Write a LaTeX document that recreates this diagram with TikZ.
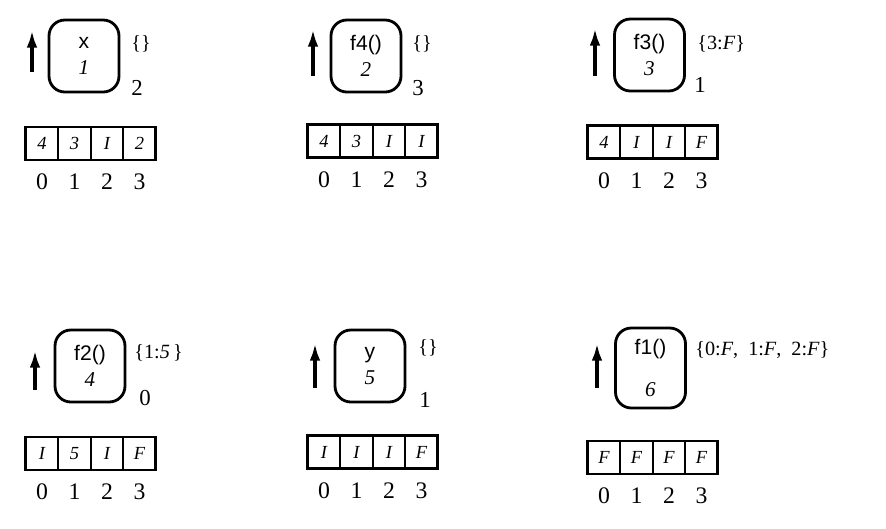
\documentclass[tikz,border=0pt]{standalone}
\usepackage{fontspec}
\setmainfont{Liberation Serif}
\setsansfont{Liberation Sans}
\usetikzlibrary{positioning,arrows.meta}

\begin{document}
\begin{tikzpicture}[x=0.02cm, y=-0.02cm,
  frame/.style={draw, line width=1.6pt, rounded corners=9pt, minimum width=1.4cm,
                minimum height=1.44cm, align=center, inner sep=0pt,
                font=\fontsize{12}{14}\selectfont},
  cell/.style={draw, line width=0.9pt, outer sep=0pt, minimum width=0.65cm,
               minimum height=0.66cm, inner sep=0pt,
               font=\fontsize{10.5}{12}\selectfont\itshape},
  arrframe/.style={line width=1.5pt},
  idx/.style={font=\fontsize{13.5}{15}\selectfont, inner sep=0pt},
  setlbl/.style={font=\fontsize{11.5}{13}\selectfont, anchor=west, inner sep=0pt},
  cnt/.style={font=\fontsize{13}{15}\selectfont, inner sep=0pt},
  upar/.style={-{Latex[length=10pt,width=6pt]}, line width=2pt}
]
  \useasboundingbox (0,0) rectangle (886,528);

  % ---- panel 1: x
  \coordinate (p1a0) at (32,72);
  \coordinate (p1a1) at (32,30);
  \draw[upar] (p1a0) -- (p1a1);
  \node[frame] (p1box) at (84,56) {\sffamily x\\[1pt]\itshape 1};
  \node[setlbl] (p1set) at (131,44) {\{\}};
  \node[cnt]    (p1cnt) at (137,88) {2};
  \node[cell] (p1c0) at (42,143.5) {4};
  \node[cell, right=0pt of p1c0] (p1c1) {3};
  \node[cell, right=0pt of p1c1] (p1c2) {I};
  \node[cell, right=0pt of p1c2] (p1c3) {2};
  \draw[arrframe] (p1c0.north west) rectangle (p1c3.south east);
  \node[idx, below=0.27cm of p1c0] (p1i0) {0};
  \node[idx, below=0.27cm of p1c1] (p1i1) {1};
  \node[idx, below=0.27cm of p1c2] (p1i2) {2};
  \node[idx, below=0.27cm of p1c3] (p1i3) {3};

  % ---- panel 2: f4()
  \coordinate (p2a0) at (313,76);
  \coordinate (p2a1) at (313,29);
  \draw[upar] (p2a0) -- (p2a1);
  \node[frame] (p2box) at (366,56) {\sffamily f4()\\[1pt]\itshape 2};
  \node[setlbl] (p2set) at (412,44) {\{\}};
  \node[cnt]    (p2cnt) at (418,88) {3};
  \node[cell] (p2c0) at (324,141) {4};
  \node[cell, right=0pt of p2c0] (p2c1) {3};
  \node[cell, right=0pt of p2c1] (p2c2) {I};
  \node[cell, right=0pt of p2c2] (p2c3) {I};
  \draw[arrframe] (p2c0.north west) rectangle (p2c3.south east);
  \node[idx, below=0.27cm of p2c0] (p2i0) {0};
  \node[idx, below=0.27cm of p2c1] (p2i1) {1};
  \node[idx, below=0.27cm of p2c2] (p2i2) {2};
  \node[idx, below=0.27cm of p2c3] (p2i3) {3};

  % ---- panel 3: f3()
  \coordinate (p3a0) at (595,76);
  \coordinate (p3a1) at (595,28);
  \draw[upar] (p3a0) -- (p3a1);
  \node[frame] (p3box) at (649.5,55) {\sffamily f3()\\[1pt]\itshape 3};
  \node[setlbl] (p3set) at (697,44) {\{3:\textit{F}\}};
  \node[cnt]    (p3cnt) at (700,85) {1};
  \node[cell] (p3c0) at (604,142) {4};
  \node[cell, right=0pt of p3c0] (p3c1) {I};
  \node[cell, right=0pt of p3c1] (p3c2) {I};
  \node[cell, right=0pt of p3c2] (p3c3) {F};
  \draw[arrframe] (p3c0.north west) rectangle (p3c3.south east);
  \node[idx, below=0.27cm of p3c0] (p3i0) {0};
  \node[idx, below=0.27cm of p3c1] (p3i1) {1};
  \node[idx, below=0.27cm of p3c2] (p3i2) {2};
  \node[idx, below=0.27cm of p3c3] (p3i3) {3};

  % ---- panel 4: f2()
  \coordinate (p4a0) at (35,390);
  \coordinate (p4a1) at (35,350);
  \draw[upar] (p4a0) -- (p4a1);
  \node[frame] (p4box) at (90,366) {\sffamily f2()\\[1pt]\itshape 4};
  \node[setlbl] (p4set) at (134,353) {\{1:\textit{5}\,\}};
  \node[cnt]    (p4cnt) at (145,398) {0};
  \node[cell] (p4c0) at (42,453.5) {I};
  \node[cell, right=0pt of p4c0] (p4c1) {5};
  \node[cell, right=0pt of p4c1] (p4c2) {I};
  \node[cell, right=0pt of p4c2] (p4c3) {F};
  \draw[arrframe] (p4c0.north west) rectangle (p4c3.south east);
  \node[idx, below=0.27cm of p4c0] (p4i0) {0};
  \node[idx, below=0.27cm of p4c1] (p4i1) {1};
  \node[idx, below=0.27cm of p4c2] (p4i2) {2};
  \node[idx, below=0.27cm of p4c3] (p4i3) {3};

  % ---- panel 5: y
  \coordinate (p5a0) at (315,388);
  \coordinate (p5a1) at (315,343);
  \draw[upar] (p5a0) -- (p5a1);
  \node[frame] (p5box) at (370,366) {\sffamily y\\[1pt]\itshape 5};
  \node[setlbl] (p5set) at (418,348) {\{\}};
  \node[cnt]    (p5cnt) at (425,400) {1};
  \node[cell] (p5c0) at (324,452) {I};
  \node[cell, right=0pt of p5c0] (p5c1) {I};
  \node[cell, right=0pt of p5c1] (p5c2) {I};
  \node[cell, right=0pt of p5c2] (p5c3) {F};
  \draw[arrframe] (p5c0.north west) rectangle (p5c3.south east);
  \node[idx, below=0.27cm of p5c0] (p5i0) {0};
  \node[idx, below=0.27cm of p5c1] (p5i1) {1};
  \node[idx, below=0.27cm of p5c2] (p5i2) {2};
  \node[idx, below=0.27cm of p5c3] (p5i3) {3};

  % ---- panel 6: f1()
  \coordinate (p6a0) at (597,388);
  \coordinate (p6a1) at (597,343);
  \draw[upar] (p6a0) -- (p6a1);
  \node[frame, minimum height=1.6cm] (p6box) at (650.5,368) {\sffamily f1()\\[10pt]\itshape 6};
  \node[setlbl] (p6set) at (695,350) {\{0:\textit{F}, \ 1:\textit{F}, \ 2:\textit{F}\}};
  \node[cell] (p6c0) at (604,457.5) {F};
  \node[cell, right=0pt of p6c0] (p6c1) {F};
  \node[cell, right=0pt of p6c1] (p6c2) {F};
  \node[cell, right=0pt of p6c2] (p6c3) {F};
  \draw[arrframe] (p6c0.north west) rectangle (p6c3.south east);
  \node[idx, below=0.27cm of p6c0] (p6i0) {0};
  \node[idx, below=0.27cm of p6c1] (p6i1) {1};
  \node[idx, below=0.27cm of p6c2] (p6i2) {2};
  \node[idx, below=0.27cm of p6c3] (p6i3) {3};

\end{tikzpicture}
\end{document}
